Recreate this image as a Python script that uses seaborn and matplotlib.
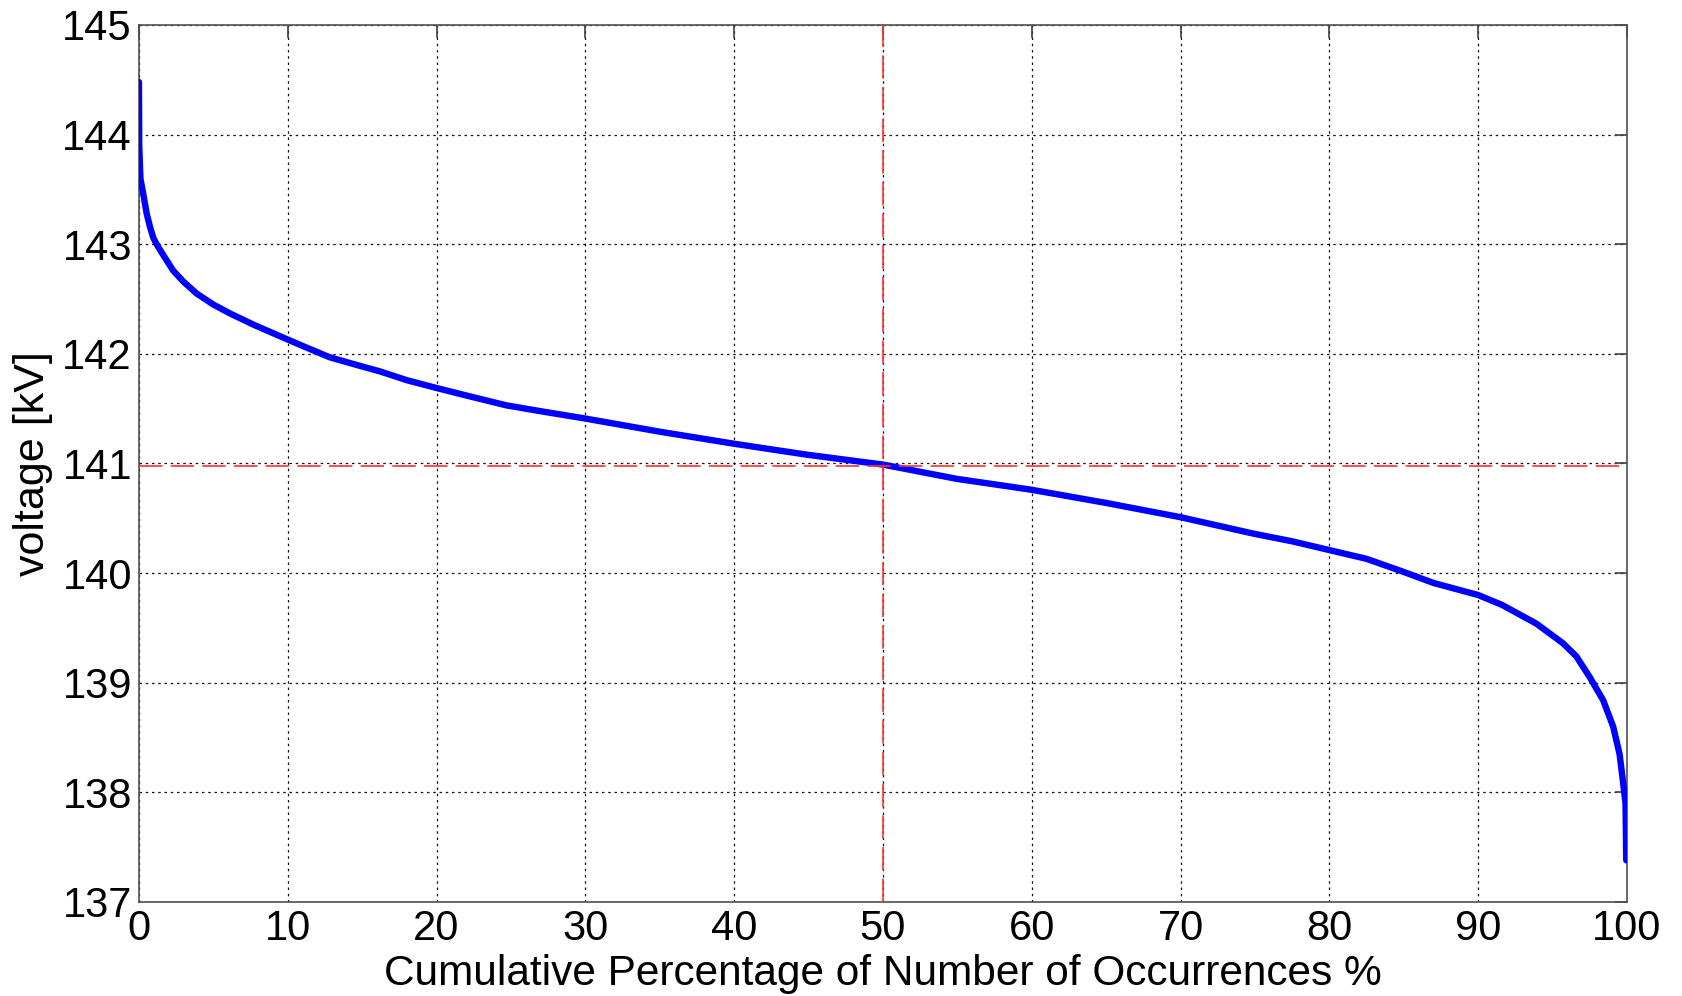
import numpy as np
import pandas as pd
import matplotlib
matplotlib.use("Agg")
import matplotlib.pyplot as plt
import seaborn as sns

# duration curve
pct = [0.0, 0.02, 0.1, 0.29, 0.52, 0.74, 0.96, 1.19, 1.64, 2.3, 2.98, 3.88,
       5.0, 6.1, 7.8, 9.5, 11.04, 12.8, 14.6, 16.2, 18.0, 19.96, 22.3, 24.7,
       27.3, 30.0, 35.0, 40.0, 44.9, 50.0, 54.95, 60.0, 65.0, 70.0, 74.9,
       77.5, 80.0, 82.5, 84.8, 87.0, 90.0, 91.6, 93.9, 95.7, 96.6, 97.5,
       98.4, 99.07, 99.5, 99.72, 99.9, 99.95]
voltage = [144.48, 143.9, 143.6, 143.46, 143.28, 143.16, 143.06, 143.0,
           142.9, 142.76, 142.66, 142.55, 142.45, 142.37, 142.26, 142.16,
           142.07, 141.97, 141.90, 141.84, 141.76, 141.69, 141.61, 141.53,
           141.47, 141.41, 141.29, 141.18, 141.08, 140.99, 140.86, 140.76,
           140.64, 140.51, 140.36, 140.29, 140.21, 140.13, 140.02, 139.91,
           139.80, 139.71, 139.54, 139.36, 139.24, 139.05, 138.84, 138.60,
           138.35, 138.11, 137.90, 137.38]
median_pct = 50
median_kv = 140.98

xticks = list(range(0, 101, 10))
yticks = list(range(137, 146))

df = pd.DataFrame({"pct": pct, "kv": voltage})

sns.set_style("white")
plt.rcParams["font.family"] = ["Liberation Sans", "DejaVu Sans"]
plt.rcParams["text.color"] = "black"
plt.rcParams["axes.labelcolor"] = "black"

fig = plt.figure(figsize=(16.82, 9.96), dpi=100)
ax = fig.add_axes([0.0826, 0.0944, 0.8847, 0.8805])

sns.lineplot(data=df, x="pct", y="kv", ax=ax, color="#0000ff", lw=4.6,
             estimator=None, sort=False, zorder=3)

ax.axvline(median_pct, color="#ff3030", lw=1.2, dashes=(14, 5), zorder=4)
ax.axhline(median_kv, color="#ff3030", lw=1.2, dashes=(14, 5), zorder=4)

ax.set_xlim(0, 100)
ax.set_ylim(137, 145)
ax.set_xticks(xticks)
ax.set_yticks(yticks)
ax.grid(True, color="#111111", linestyle=(0, (2, 3)), lw=0.9)
ax.set_axisbelow(True)

ax.tick_params(direction="in", length=9, width=1.2, colors="#404040",
               labelcolor="black", labelsize=30, top=True, right=True, pad=5)
for s in ax.spines.values():
    s.set_visible(True)
    s.set_color("#505050")
    s.set_linewidth(1.2)

ax.set_xlabel("Cumulative Percentage of Number of Occurrences %", fontsize=30.5, labelpad=4)
ax.set_ylabel("voltage [kV]", fontsize=31, labelpad=7)

fig.savefig("out.png", dpi=100)
